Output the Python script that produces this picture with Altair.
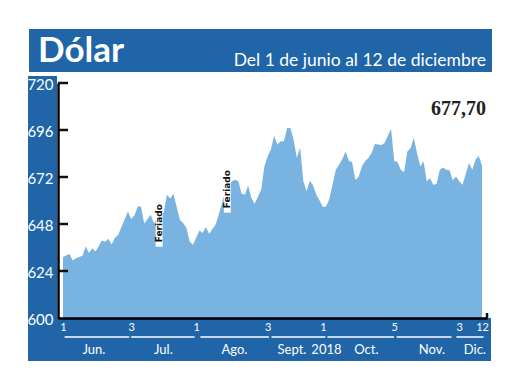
import altair as alt
import pandas as pd

# trading-day index (0 = 1 Jun 2018, 129 = 12 Dec 2018) and observed dollar value
day = [0, 2, 3, 4, 6, 7, 8, 9, 10, 12, 13, 14, 15, 16, 17, 20, 21, 22, 23, 24,
       25, 27, 28, 29, 30, 31, 32, 33, 34, 36, 37, 38, 39, 40, 41, 42, 43, 44, 45, 47,
       48, 49, 50, 51, 52, 53, 54, 55, 56, 57, 58, 59, 61, 62, 63, 64, 65, 66, 67, 68,
       69, 70, 71, 72, 73, 74, 75, 76, 77, 78, 79, 80, 81, 82, 84, 85, 86, 87, 88, 89,
       90, 91, 92, 93, 94, 95, 96, 98, 99, 101, 102, 103, 104, 105, 106, 107, 108, 109, 110, 111,
       112, 113, 114, 115, 116, 117, 118, 119, 120, 121, 122, 123, 125, 126, 127, 128, 129]
valor = [631.2, 632.7, 629.4, 630.5, 631.8, 636.6, 633.2, 635.6, 634.0, 639.6, 639.0, 640.5, 637.5, 641.0, 642.5, 654.4, 650.5, 652.5, 657.0, 657.0,
         648.2, 652.7, 648.2, 651.2, 653.6, 653.6, 663.0, 661.0, 663.4, 650.0, 648.5, 646.0, 639.1, 637.4, 641.0, 644.7, 643.4, 646.5, 643.0, 647.7,
         653.0, 659.0, 664.7, 667.0, 669.8, 670.6, 669.8, 663.5, 663.0, 667.6, 661.3, 658.4, 665.5, 677.4, 682.5, 686.0, 693.1, 688.5, 690.2, 690.2,
         697.0, 697.0, 691.0, 681.7, 687.1, 669.8, 664.7, 670.1, 667.6, 663.0, 660.0, 656.7, 657.0, 660.8, 675.7, 678.2, 681.2, 685.0, 680.3, 679.5,
         670.6, 672.0, 677.4, 680.0, 681.7, 684.3, 688.9, 688.4, 689.4, 696.7, 680.0, 679.7, 675.7, 674.4, 685.0, 686.7, 692.0, 684.3, 677.4, 680.0,
         669.8, 671.5, 668.1, 668.4, 675.7, 676.9, 675.7, 675.4, 670.3, 672.3, 669.8, 668.1, 679.2, 675.7, 680.8, 682.9, 677.7]

y_ticks = [600, 624, 648, 672, 696, 720]
x_tick_pos = [0, 21, 41, 63, 80, 102, 122, 129]
x_tick_lab = ["1", "3", "1", "3", "1", "5", "3", "12"]

mes = ["Jun.", "Jul.", "Ago.", "Sept.", "2018", "Oct.", "Nov.", "Dic."]
mes_pos = [9.5, 30.9, 52.8, 70.5, 81.1, 93.4, 113.6, 126.8]
seg_ini = [0.5, 21.0, 42.3, 64.2, 81.4, 102.7, 121.1]
seg_fin = [20.4, 40.5, 63.4, 80.8, 101.9, 119.6, 129.5]

feriado_pos = [29.6, 50.6]
feriado_lo = [636.4, 653.8]
feriado_hi = [660.4, 677.8]

titulo = "Dólar"
subtitulo = "Del 1 de junio al 12 de diciembre"
ultimo = "677,70"

W, H = 429, 235
BLUE = "#1f65a8"
AREA = "#79b3e1"

df = pd.DataFrame({"d": day, "v": valor})
one = pd.DataFrame({"k": [0]})
months = pd.DataFrame({"m": mes, "p": mes_pos})
segs = pd.DataFrame({"a": seg_ini, "b": seg_fin})
fer = pd.DataFrame({"p": feriado_pos, "lo": feriado_lo, "hi": feriado_hi})
fer["mid"] = (fer["lo"] + fer["hi"]) / 2
ticks = pd.DataFrame({"t": y_ticks[1:]})

label_expr = ""
for p, l in zip(x_tick_pos, x_tick_lab):
    label_expr += f"datum.value == {p} ? '{l}' : "
label_expr += "''"

xs = alt.Scale(domain=[0, 129], nice=False, zero=False)
ys = alt.Scale(domain=[600, 720], nice=False, zero=False)

x_axis = alt.Axis(values=x_tick_pos, labelExpr=label_expr, title=None, grid=False,
                  tickSize=0, domainColor="black", domainWidth=2.5, labelColor="white",
                  labelFontSize=11, labelPadding=3, labelFlush=True, zindex=2,
                  labelFont="Liberation Sans Narrow, Lato")
y_axis = alt.Axis(values=y_ticks, title=None, grid=False, tickSize=0, domainColor="black",
                  domainWidth=2.5, labelColor="white", labelFontSize=15, labelPadding=5,
                  zindex=2, labelFont="Liberation Sans Narrow, Lato", labelOffset=1)

base1 = alt.Chart(one)

banner = base1.mark_rect(color=BLUE).encode(
    x=alt.value(-29), x2=alt.value(434), y=alt.value(-54), y2=alt.value(-11))
left_band = base1.mark_rect(color=BLUE).encode(
    x=alt.value(-30), x2=alt.value(-1), y=alt.value(-7), y2=alt.value(278))
bottom_band = base1.mark_rect(color=BLUE).encode(
    x=alt.value(-30), x2=alt.value(433), y=alt.value(H), y2=alt.value(278))

area = alt.Chart(df).mark_area(color=AREA, opacity=1, interpolate="linear", clip=True).encode(
    x=alt.X("d:Q", scale=xs, axis=x_axis),
    y=alt.Y("v:Q", scale=ys, axis=y_axis),
    y2=alt.value(H),
)

fer_box = alt.Chart(fer).mark_bar(color="white", width=7).encode(
    x=alt.X("p:Q", scale=xs), y=alt.Y("lo:Q", scale=ys), y2="hi:Q")
fer_txt = alt.Chart(fer).mark_text(angle=270, fontSize=9, fontWeight="bold", color="#111111",
                                   font="DejaVu Sans", baseline="middle", align="center").encode(
    x=alt.X("p:Q", scale=xs), y=alt.Y("mid:Q", scale=ys), text=alt.value("Feriado"))

tick_rules = alt.Chart(ticks).mark_rule(color="#111111", strokeWidth=2.5).encode(
    x=alt.value(0), x2=alt.value(10), y=alt.Y("t:Q", scale=ys))
end_tick = base1.mark_rule(color="#111111", strokeWidth=2.5).encode(
    x=alt.value(W), y=alt.value(H - 5), y2=alt.value(H))

seg_rules = alt.Chart(segs).mark_rule(color="white", strokeWidth=1.5).encode(
    x=alt.X("a:Q", scale=xs), x2="b:Q", y=alt.value(254))
month_txt = alt.Chart(months).mark_text(color="white", fontSize=13, baseline="alphabetic",
                                        font="Liberation Sans Narrow, Lato").encode(
    x=alt.X("p:Q", scale=xs), y=alt.value(271), text="m:N")

title_txt = base1.mark_text(color="white", fontSize=35, fontWeight="bold", font="Lato",
                            align="left", baseline="alphabetic").encode(
    x=alt.value(-20), y=alt.value(-21), text=alt.value(titulo))
sub_txt = base1.mark_text(color="white", fontSize=17.5, font="Lato",
                          align="right", baseline="alphabetic").encode(
    x=alt.value(428), y=alt.value(-17), text=alt.value(subtitulo))
last_txt = base1.mark_text(color="#222222", fontSize=20, fontWeight="bold",
                           font="Liberation Serif", align="right", baseline="alphabetic").encode(
    x=alt.value(428), y=alt.value(32), text=alt.value(ultimo))

chart = alt.layer(
    area, left_band, bottom_band, banner, fer_box, fer_txt, tick_rules, end_tick,
    seg_rules, month_txt, title_txt, sub_txt, last_txt
).properties(
    width=W, height=H,
    autosize=alt.AutoSizeParams(type="none"),
    padding={"left": 50, "top": 75, "right": 25, "bottom": 50},
    background="white",
).configure_view(stroke=None)

chart.save("out.html", embed_options={"renderer": "svg", "actions": False})
